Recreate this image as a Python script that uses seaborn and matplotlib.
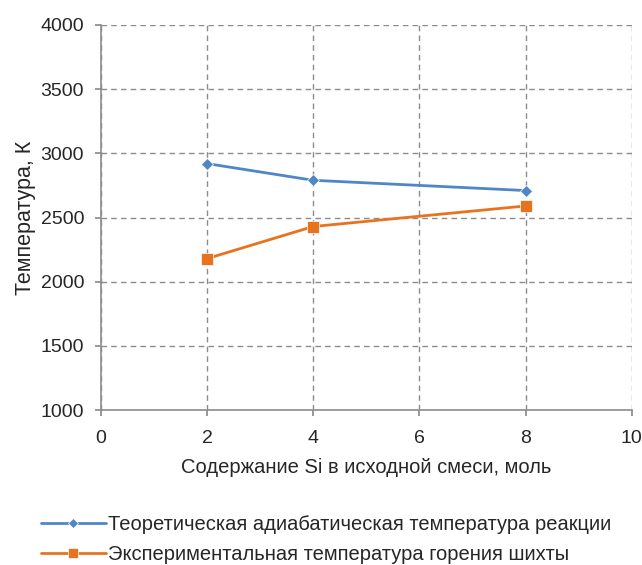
import matplotlib
matplotlib.use("Agg")
import matplotlib.pyplot as plt
import seaborn as sns
import pandas as pd

si_mol = [2, 4, 8]
t_theoretical = [2920, 2790, 2710]
t_experimental = [2180, 2430, 2590]
series_names = ["Теоретическая адиабатическая температура реакции",
                "Экспериментальная температура горения шихты"]
x_ticks = [0, 2, 4, 6, 8, 10]
y_ticks = [1000, 1500, 2000, 2500, 3000, 3500, 4000]

sns.set_theme(style="white")
plt.rcParams["font.family"] = ["Liberation Sans", "DejaVu Sans"]

df = pd.DataFrame({
    "x": si_mol * 2,
    "T": t_theoretical + t_experimental,
    "series": [series_names[0]] * 3 + [series_names[1]] * 3,
})

fig = plt.figure(figsize=(6.42, 5.65), dpi=100)
ax = fig.add_axes([0.157, 0.274, 0.827, 0.682])

palette = {series_names[0]: "#4F86C6", series_names[1]: "#E8731F"}
sns.lineplot(data=df, x="x", y="T", hue="series", style="series",
             markers={series_names[0]: "D", series_names[1]: "s"},
             dashes=False, palette=palette, linewidth=2,
             markersize=7, markeredgewidth=0.5, ax=ax)
for line, ms in zip(ax.lines, [6, 8]):
    line.set_markersize(ms)

ax.set_xlim(0, 10)
ax.set_ylim(1000, 4000)
ax.set_xticks(x_ticks)
ax.set_yticks(y_ticks)
ax.grid(True, color="#8c8c8c", linestyle=(0, (4, 3)), linewidth=1)
for s in ["top", "right"]:
    ax.spines[s].set_visible(False)
for s in ["left", "bottom"]:
    ax.spines[s].set_color("#8c8c8c")
    ax.spines[s].set_linewidth(1.2)
ax.tick_params(axis="both", which="major", length=4, color="#8c8c8c",
               labelsize=14, labelcolor="#262626", direction="out",
               left=True, bottom=True, pad=8)
ax.tick_params(axis="x", pad=10)
ax.set_xlabel("Содержание Si в исходной смеси, моль", fontsize=14.5,
              color="#262626", labelpad=8)
ax.set_ylabel("Температура, К", fontsize=15.5, color="#262626", labelpad=3)

handles, labels = ax.get_legend_handles_labels()
for h, ms in zip(handles, [5, 7]):
    h.set_markersize(ms)
ax.legend_.remove()
fig.legend(handles, labels, loc="upper left", bbox_to_anchor=(0.036, 0.12),
           frameon=False, fontsize=14.5, handlelength=3.2, handletextpad=0.1,
           labelspacing=0.55, labelcolor="#262626")

fig.savefig("out.png", dpi=100)
